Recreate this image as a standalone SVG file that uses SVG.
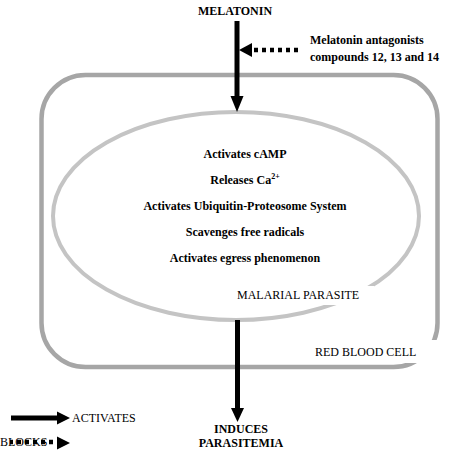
<svg xmlns="http://www.w3.org/2000/svg" width="457" height="461" viewBox="0 0 457 461">
<style>
text{font-size:12px;fill:#000}
.b{font-weight:bold}
.m{text-anchor:middle}
.solid{stroke:#000;stroke-width:5;fill:none}
.dash{stroke:#000;stroke-width:4.5;fill:none;stroke-dasharray:4 4}
.head{fill:#000}
</style>
<rect width="457" height="461" fill="#fff"/>
<g font-family="'Liberation Serif', 'DejaVu Serif', serif">
<g id="rbc">
<rect x="41.5" y="75" width="396" height="292" rx="44" ry="44" fill="none" stroke="#a6a6a6" stroke-width="4.5"/>
<rect x="305" y="340" width="142" height="23" fill="#fff"/>
<text x="315" y="356">RED BLOOD CELL</text>
</g>
<g id="parasite">
<ellipse cx="236" cy="216" rx="183" ry="104" fill="none" stroke="#c4c4c4" stroke-width="4"/>
<rect x="230" y="286" width="144" height="19" fill="#fff"/>
<text x="237" y="299">MALARIAL PARASITE</text>
<g class="b m">
<text x="245" y="158">Activates cAMP</text>
<text x="245" y="184">Releases Ca<tspan font-size="8" dy="-5">2+</tspan></text>
<text x="245" y="210">Activates Ubiquitin-Proteosome System</text>
<text x="245" y="236">Scavenges free radicals</text>
<text x="245" y="262">Activates egress phenomenon</text>
</g>
</g>
<g id="melatonin"><text class="b m" x="235" y="15">MELATONIN</text></g>
<g id="antagonists">
<text class="b" x="310" y="44">Melatonin antagonists</text>
<text class="b" x="310" y="61">compounds 12, 13 and 14</text>
</g>
<g id="parasitemia">
<text class="b m" x="241" y="433">INDUCES</text>
<text class="b m" x="241" y="447">PARASITEMIA</text>
</g>
<g id="legend">
<text x="72" y="422">ACTIVATES</text>
<text x="0" y="446">BLOCKS</text>
</g>
</g>
<g id="connectors">
<line class="solid" x1="237" y1="21" x2="237" y2="97"/>
<polygon class="head" points="230.5,96 243.5,96 237,112"/>
<line class="solid" x1="237.5" y1="320" x2="237.5" y2="409"/>
<polygon class="head" points="231,408 244,408 237.5,422"/>
<line class="dash" x1="298" y1="50" x2="253" y2="50"/>
<polygon class="head" points="252,43 252,57 239,50"/>
<line class="solid" x1="11" y1="418" x2="58" y2="418"/>
<polygon class="head" points="57,411.5 57,424.5 70,418"/>
<line class="dash" x1="53" y1="442" x2="10" y2="442"/>
<polygon class="head" points="57,436.5 57,449.5 70,443"/>
</g>
</svg>
